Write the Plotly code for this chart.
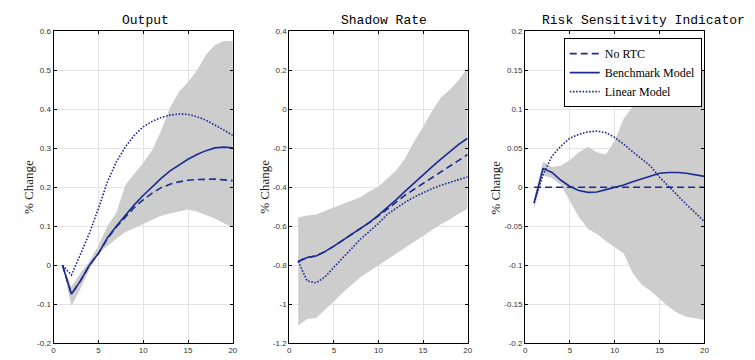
import plotly.graph_objects as go

x = list(range(1, 21))

# Output
out_norct = [0, -0.074, -0.04, 0.0, 0.03, 0.068, 0.098, 0.124, 0.148, 0.168, 0.185, 0.199, 0.208, 0.214, 0.218, 0.22, 0.221, 0.221, 0.219, 0.217]
out_bench = [0, -0.074, -0.04, 0.0, 0.03, 0.07, 0.1, 0.128, 0.155, 0.179, 0.202, 0.223, 0.242, 0.258, 0.272, 0.284, 0.294, 0.301, 0.303, 0.301]
out_linear = [0, -0.025, 0.028, 0.082, 0.145, 0.213, 0.265, 0.303, 0.333, 0.355, 0.369, 0.379, 0.385, 0.388, 0.387, 0.381, 0.372, 0.36, 0.347, 0.333]
out_upper = [0, -0.055, -0.02, 0.01, 0.05, 0.1, 0.135, 0.205, 0.235, 0.262, 0.295, 0.345, 0.405, 0.445, 0.47, 0.5, 0.54, 0.565, 0.575, 0.575]
out_lower = [0, -0.105, -0.06, -0.01, 0.03, 0.05, 0.068, 0.085, 0.096, 0.105, 0.117, 0.127, 0.133, 0.138, 0.143, 0.138, 0.13, 0.12, 0.108, 0.097]

# Shadow rate
sr_norct = [-0.78, -0.76, -0.752, -0.73, -0.702, -0.672, -0.642, -0.612, -0.58, -0.547, -0.512, -0.476, -0.44, -0.41, -0.38, -0.35, -0.32, -0.29, -0.262, -0.232]
sr_bench = [-0.78, -0.76, -0.752, -0.73, -0.702, -0.672, -0.642, -0.612, -0.58, -0.543, -0.505, -0.463, -0.42, -0.377, -0.335, -0.295, -0.255, -0.215, -0.18, -0.148]
sr_linear = [-0.78, -0.88, -0.89, -0.86, -0.81, -0.76, -0.71, -0.665, -0.625, -0.585, -0.538, -0.505, -0.476, -0.45, -0.427, -0.407, -0.39, -0.374, -0.36, -0.346]
sr_upper = [-0.555, -0.545, -0.54, -0.522, -0.505, -0.487, -0.47, -0.45, -0.42, -0.396, -0.355, -0.312, -0.25, -0.165, -0.09, -0.01, 0.06, 0.1, 0.15, 0.21]
sr_lower = [-1.11, -1.075, -1.07, -1.03, -0.985, -0.94, -0.9, -0.86, -0.83, -0.8, -0.77, -0.74, -0.71, -0.68, -0.65, -0.62, -0.59, -0.565, -0.535, -0.51]

# Risk sensitivity indicator
rs_norct = [0] * 20
rs_bench = [-0.02, 0.024, 0.019, 0.009, 0.001, -0.004, -0.0065, -0.006, -0.003, 0.0, 0.003, 0.007, 0.011, 0.015, 0.018, 0.019, 0.019, 0.018, 0.016, 0.014]
rs_linear = [-0.02, 0.016, 0.04, 0.053, 0.063, 0.068, 0.071, 0.072, 0.07, 0.064, 0.055, 0.046, 0.036, 0.027, 0.013, 0.001, -0.011, -0.022, -0.033, -0.044]
rs_upper = [-0.015, 0.033, 0.026, 0.028, 0.035, 0.045, 0.052, 0.045, 0.042, 0.06, 0.088, 0.104, 0.12, 0.138, 0.15, 0.158, 0.16, 0.16, 0.155, 0.15]
rs_lower = [-0.028, 0.015, 0.012, 0.003, -0.018, -0.038, -0.053, -0.06, -0.069, -0.077, -0.085, -0.11, -0.125, -0.133, -0.143, -0.153, -0.161, -0.166, -0.168, -0.17]

titles = ["Output", "Shadow Rate", "Risk Sensitivity Indicator"]
series_names = ["No RTC", "Benchmark Model", "Linear Model"]
x_ticks = [0, 5, 10, 15, 20]
y_ticks = [
    [-0.2, -0.1, 0, 0.1, 0.2, 0.3, 0.4, 0.5, 0.6],
    [-1.2, -1, -0.8, -0.6, -0.4, -0.2, 0, 0.2, 0.4],
    [-0.2, -0.15, -0.1, -0.05, 0, 0.05, 0.1, 0.15, 0.2],
]
y_ticktext = [
    ["-0.2", "-0.1", "0", "0.1", "0.2", "0.3", "0.4", "0.5", "0.6"],
    ["-1.2", "-1", "-0.8", "-0.6", "-0.4", "-0.2", "0", "0.2", "0.4"],
    ["-0.2", "-0.15", "-0.1", "-0.05", "0", "0.05", "0.1", "0.15", "0.2"],
]
y_ranges = [[-0.2, 0.6], [-1.2, 0.4], [-0.2, 0.2]]

panels = [
    (out_lower, out_upper, out_norct, out_bench, out_linear),
    (sr_lower, sr_upper, sr_norct, sr_bench, sr_linear),
    (rs_lower, rs_upper, rs_norct, rs_bench, rs_linear),
]

W, H = 755, 360
x_px = [(52, 233), (290, 470), (528, 709)]
y_top, y_bot = 28, 348
title_cx = [145, 386, 647]
ylabel_x = [27, 265, 498]

LINE = "#1b2b92"
BAND = "#cdcdcd"
DASHES = ["7px,4px", "solid", "1.6px,1.6px"]

fig = go.Figure()
for i, (lo, up, a, b, c) in enumerate(panels):
    xa = "x" if i == 0 else f"x{i+1}"
    ya = "y" if i == 0 else f"y{i+1}"
    fig.add_trace(go.Scatter(x=x, y=lo, mode="lines", line=dict(width=0, color=BAND),
                             showlegend=False, hoverinfo="skip", xaxis=xa, yaxis=ya))
    fig.add_trace(go.Scatter(x=x, y=up, mode="lines", line=dict(width=0, color=BAND),
                             fill="tonexty", fillcolor=BAND,
                             showlegend=False, hoverinfo="skip", xaxis=xa, yaxis=ya))
    for vals, name, dash in zip([a, b, c], series_names, DASHES):
        fig.add_trace(go.Scatter(x=x, y=vals, mode="lines", name=name,
                                 line=dict(color=LINE, width=1.6, dash=dash),
                                 showlegend=(i == 2), xaxis=xa, yaxis=ya))

tickfont = dict(family="Liberation Sans, Arial, sans-serif", size=8, color="#333333")
layout = dict(
    width=W, height=H, margin=dict(l=0, r=0, t=0, b=0),
    paper_bgcolor="white", plot_bgcolor="white",
    showlegend=True,
    legend=dict(x=567 / W, y=1 - 35 / H, xanchor="left", yanchor="top",
                bgcolor="white", bordercolor="black", borderwidth=1,
                font=dict(family="Liberation Serif, Times New Roman, serif", size=12, color="black"),
                traceorder="normal", tracegroupgap=0, itemwidth=30),
)
annotations = []
for i in range(3):
    xk = "xaxis" if i == 0 else f"xaxis{i+1}"
    yk = "yaxis" if i == 0 else f"yaxis{i+1}"
    anchor_x = "x" if i == 0 else f"x{i+1}"
    anchor_y = "y" if i == 0 else f"y{i+1}"
    layout[xk] = dict(domain=[x_px[i][0] / W, x_px[i][1] / W], range=[0, 20],
                      tickvals=x_ticks, ticktext=[str(t) for t in x_ticks],
                      showgrid=True, gridcolor="#e3e3e3", gridwidth=1, zeroline=False,
                      showline=True, linecolor="black", linewidth=1, mirror="ticks",
                      ticks="inside", ticklen=3, tickcolor="black", tickfont=tickfont,
                      ticklabelstandoff=-1,
                      anchor=anchor_y, fixedrange=True)
    layout[yk] = dict(domain=[(H - y_bot) / H, (H - y_top) / H], range=y_ranges[i],
                      tickvals=y_ticks[i], ticktext=y_ticktext[i],
                      showgrid=True, gridcolor="#e3e3e3", gridwidth=1, zeroline=False,
                      showline=True, linecolor="black", linewidth=1, mirror="ticks",
                      ticks="inside", ticklen=3, tickcolor="black", tickfont=tickfont,
                      anchor=anchor_x, fixedrange=True)
    annotations.append(dict(text=titles[i], x=title_cx[i] / W, y=1 - 17 / H,
                            xref="paper", yref="paper", xanchor="center", yanchor="middle",
                            showarrow=False,
                            font=dict(family="Liberation Mono, Courier New, monospace", size=13, color="black")))
    annotations.append(dict(text="% Change", x=ylabel_x[i] / W, y=1 - 188 / H,
                            xref="paper", yref="paper", xanchor="center", yanchor="middle",
                            textangle=-90, showarrow=False,
                            font=dict(family="Liberation Serif, Times New Roman, serif", size=13, color="#222222")))
layout["annotations"] = annotations
fig.update_layout(**layout)
fig.write_html("out.html", config={"displayModeBar": False},
               post_script="document.body.style.margin='0';document.body.style.overflow='hidden';")
